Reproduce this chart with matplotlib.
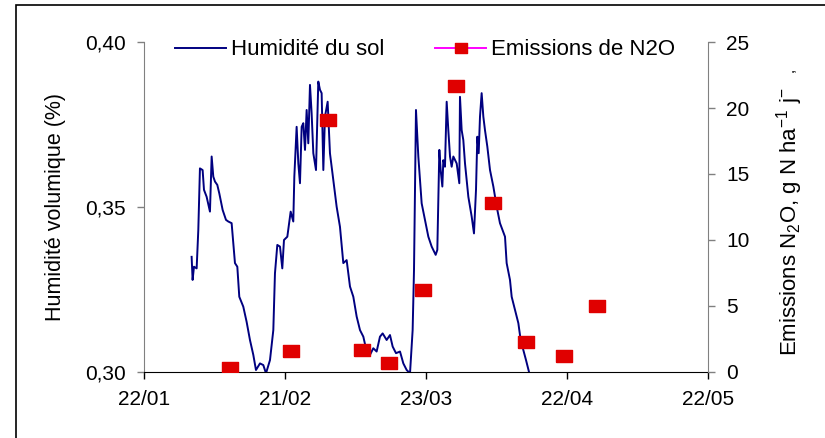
import numpy as np
import pandas as pd
import matplotlib
matplotlib.use("Agg")
import matplotlib.pyplot as plt
import matplotlib.dates as mdates
from matplotlib.lines import Line2D
from matplotlib.patches import Rectangle
from matplotlib.ticker import FuncFormatter

plt.rcParams['font.family'] = ['Liberation Sans', 'DejaVu Sans']
plt.rcParams['mathtext.fontset'] = 'custom'
plt.rcParams['mathtext.rm'] = 'Liberation Sans'
plt.rcParams['mathtext.default'] = 'regular'

# jours depuis le 22/01
debut = pd.Timestamp("2009-01-22")

jours_hum = [10.14, 10.35, 10.64, 11.21, 11.56, 11.91, 12.48, 12.77, 13.33, 14.04,
             14.40, 14.75, 15.11, 15.60, 16.03, 16.74, 17.45, 17.94, 18.65, 19.36,
             19.86, 20.28, 21.13, 21.84, 22.55, 23.26, 23.83, 24.68, 25.39, 25.96,
             26.81, 27.52, 27.87, 28.37, 28.94, 29.43, 29.79, 30.50, 31.21, 31.77,
             31.99, 32.48, 32.84, 33.19, 33.55, 33.90, 34.26, 34.61, 34.96, 35.32,
             35.67, 36.03, 36.60, 37.09, 37.45, 37.80, 38.16, 38.51, 39.08, 39.57,
             40.28, 40.99, 41.70, 42.41, 43.12, 43.83, 44.54, 45.25, 45.96, 46.67,
             47.38, 48.09, 48.79, 49.50, 50.21, 50.78, 51.63, 52.34, 52.91, 53.62,
             54.47, 55.18, 55.89, 56.60, 57.16, 57.45, 57.87, 58.37, 58.72, 59.08,
             59.79, 60.50, 61.21, 62.06, 62.41, 62.84, 63.12, 63.48, 63.69, 64.04,
             64.40, 64.75, 65.11, 65.46, 65.82, 66.53, 67.09, 67.23, 67.59, 67.94,
             68.30, 68.65, 69.01, 69.72, 70.21, 70.64, 70.92, 71.21, 71.49, 71.84,
             72.20, 72.55, 73.05, 73.62, 74.33, 75.04, 75.74, 76.81, 77.16, 77.87,
             78.23, 78.94, 79.65, 80.14, 80.71, 81.28, 81.99]
humidite = [0.3349, 0.3279, 0.3319, 0.3314, 0.3430, 0.3617, 0.3612, 0.3552, 0.3531, 0.3486,
            0.3653, 0.3592, 0.3577, 0.3567, 0.3541, 0.3491, 0.3461, 0.3456, 0.3451, 0.3330,
            0.3319, 0.3228, 0.3198, 0.3152, 0.3097, 0.3052, 0.3006, 0.3026, 0.3021, 0.2996,
            0.3036, 0.3127, 0.3299, 0.3385, 0.3380, 0.3314, 0.3400, 0.3410, 0.3486, 0.3456,
            0.3592, 0.3743, 0.3632, 0.3572, 0.3743, 0.3754, 0.3673, 0.3794, 0.3693, 0.3870,
            0.3784, 0.3663, 0.3612, 0.3880, 0.3855, 0.3845, 0.3612, 0.3774, 0.3819, 0.3663,
            0.3582, 0.3501, 0.3440, 0.3330, 0.3339, 0.3259, 0.3228, 0.3168, 0.3127, 0.3107,
            0.3062, 0.3052, 0.3072, 0.3062, 0.3107, 0.3117, 0.3097, 0.3112, 0.3077, 0.3057,
            0.3062, 0.3026, 0.3006, 0.2996, 0.3127, 0.3309, 0.3794, 0.3653, 0.3582, 0.3511,
            0.3461, 0.3410, 0.3380, 0.3355, 0.3370, 0.3673, 0.3612, 0.3562, 0.3642, 0.3622,
            0.3819, 0.3733, 0.3653, 0.3622, 0.3653, 0.3632, 0.3572, 0.3834, 0.3733, 0.3703,
            0.3632, 0.3582, 0.3531, 0.3471, 0.3420, 0.3552, 0.3713, 0.3663, 0.3774, 0.3845,
            0.3774, 0.3733, 0.3683, 0.3612, 0.3562, 0.3501, 0.3451, 0.3410, 0.3330, 0.3279,
            0.3228, 0.3188, 0.3148, 0.3097, 0.3067, 0.3036, 0.2996]

jours_n2o = [18.3, 31.2, 39.2, 46.3, 52.2, 59.3, 66.4, 74.3, 81.3, 89.4, 96.3]
emissions = [0.3, 1.6, 19.1, 1.7, 0.7, 6.2, 21.7, 12.8, 2.3, 1.2, 5.0]

jours_ticks = [0, 30, 60, 90, 120]

dates_hum = debut + pd.to_timedelta(jours_hum, unit="D")
dates_n2o = debut + pd.to_timedelta(jours_n2o, unit="D")
dates_ticks = debut + pd.to_timedelta(jours_ticks, unit="D")

fig = plt.figure(figsize=(8.25, 4.38), dpi=100)
ax = fig.add_axes([0.1745, 0.1507, 0.6837, 0.7534])
ax.plot(dates_hum, humidite, color='#000080', lw=1.4)
ax.set_ylim(0.30, 0.40)
ax.set_yticks([0.30, 0.35, 0.40])
ax.yaxis.set_major_formatter(FuncFormatter(lambda v, p: f"{v:.2f}".replace('.', ',')))
ax.set_xlim(dates_ticks[0], dates_ticks[-1])
ax.set_xticks(dates_ticks)
ax.xaxis.set_major_formatter(mdates.DateFormatter('%d/%m'))
ax.set_ylabel("Humidité volumique (%)", fontsize=15.5, labelpad=14)

ax2 = ax.twinx()
marqueur = [(-1.35, -1), (1.35, -1), (1.35, 1), (-1.35, 1), (-1.35, -1)]
ax2.plot(dates_n2o, emissions, ls='none', marker=marqueur, ms=11,
         color='#e00000', mec='#e00000')
ax2.set_ylim(0, 25)
ax2.set_yticks([0, 5, 10, 15, 20, 25])
ax2.set_ylabel("Emissions N$_2$O, g N ha$^{-1}$ j$^{-}$", fontsize=16)
ax2.yaxis.set_label_coords(1.118, 0.455)

for a in (ax, ax2):
    a.spines['top'].set_visible(False)
    a.spines['left'].set_color('#808080')
    a.spines['right'].set_color('#808080')
    a.spines['bottom'].set_color('black')
    a.tick_params(labelsize=15, length=5, width=1, direction='out', pad=8)
ax.spines['right'].set_visible(False)
ax2.spines['left'].set_visible(False)
ax2.spines['bottom'].set_visible(False)
ax.tick_params(axis='y', colors='#808080', labelcolor='black')
ax2.tick_params(axis='y', colors='#808080', labelcolor='black')

handles = [Line2D([], [], color='#000080', lw=1.4),
           Line2D([], [], color='#ff00ff', lw=1.4, marker=marqueur, ms=9,
                  mfc='#e00000', mec='#e00000')]
fig.legend(handles, ["Humidité du sol", "Emissions de N2O"], loc='center',
           bbox_to_anchor=(0.515, 0.886), ncol=2, frameon=False, fontsize=16,
           handlelength=2.3, handletextpad=0.2, columnspacing=2.3, borderpad=0)

fig.text(790 / 825, 1 - 70 / 438, ",", fontsize=11, rotation=90, ha='center', va='center')

fig.patches.append(Rectangle((16 / 825, -0.1), 1.2, 1.1 - 5 / 438,
                             transform=fig.transFigure, fill=False, ec='black',
                             lw=1.2, clip_on=False))

fig.savefig("out.png", dpi=100)
